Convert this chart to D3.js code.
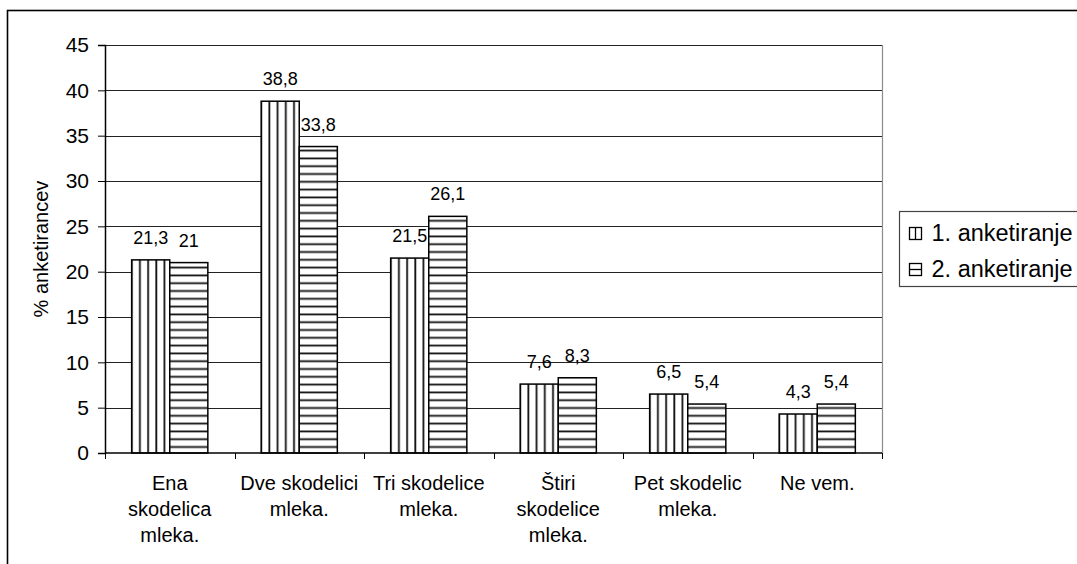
<!DOCTYPE html>
<html>
<head>
<meta charset="utf-8">
<script src="https://cdn.jsdelivr.net/npm/d3@7"></script>
<style>
  html, body { margin: 0; padding: 0; background: #fff; }
  svg { display: block; font-family: "Liberation Sans", Arial, sans-serif; }
</style>
</head>
<body>
<svg id="chart" width="1077" height="564"></svg>
<script>
// Answers to "how many cups of milk" — two survey rounds
const categories = [
  "Ena skodelica mleka.",
  "Dve skodelici mleka.",
  "Tri skodelice mleka.",
  "Štiri skodelice mleka.",
  "Pet skodelic mleka.",
  "Ne vem."
];
// category labels as they wrap under the axis
const categoryLines = [
  ["Ena", "skodelica", "mleka."],
  ["Dve skodelici", "mleka."],
  ["Tri skodelice", "mleka."],
  ["Štiri", "skodelice", "mleka."],
  ["Pet skodelic", "mleka."],
  ["Ne vem."]
];
const seriesNames = ["1. anketiranje", "2. anketiranje"];
const survey1 = [21.3, 38.8, 21.5, 7.6, 6.5, 4.3];
const survey2 = [21, 33.8, 26.1, 8.3, 5.4, 5.4];
const yTicks = [0, 5, 10, 15, 20, 25, 30, 35, 40, 45];
const yTitle = "% anketirancev";

const svg = d3.select("#chart");
const plot = { left: 105, right: 882, top: 45, bottom: 453 };

// hatch fills: vertical lines for round 1, horizontal lines for round 2
const defs = svg.append("defs");
defs.append("pattern")
  .attr("id", "hatch-v").attr("patternUnits", "userSpaceOnUse")
  .attr("width", 8.2).attr("height", 8)
  .call(p => {
    p.append("rect").attr("width", 8.2).attr("height", 8).attr("fill", "#fff");
    p.append("rect").attr("x", 1.2).attr("width", 1.8).attr("height", 8).attr("fill", "#111");
  });
defs.append("pattern")
  .attr("id", "hatch-h").attr("patternUnits", "userSpaceOnUse")
  .attr("width", 8).attr("height", 7.8)
  .call(p => {
    p.append("rect").attr("width", 8).attr("height", 7.8).attr("fill", "#fff");
    p.append("rect").attr("y", 1.5).attr("width", 8).attr("height", 1.8).attr("fill", "#111");
  });
const fills = ["url(#hatch-v)", "url(#hatch-h)"];

// chart frame
svg.append("rect")
  .attr("x", 7.5).attr("y", 10.5).attr("width", 1200).attr("height", 700)
  .attr("fill", "#fff").attr("stroke", "#000").attr("stroke-width", 1.6);

const x = d3.scaleBand().domain(categories).range([plot.left, plot.right]).padding(0);
const xInner = d3.scaleBand().domain([0, 1]).range([0, x.bandwidth()])
  .paddingInner(0).paddingOuter(0.7);
const y = d3.scaleLinear().domain([0, 45]).range([plot.bottom, plot.top]);

// gridlines
svg.append("g")
  .selectAll("line").data(yTicks.filter(t => t > 0)).join("line")
  .attr("x1", plot.left).attr("x2", plot.right)
  .attr("y1", d => Math.round(y(d)) + 0.5).attr("y2", d => Math.round(y(d)) + 0.5)
  .attr("stroke", "#222").attr("stroke-width", 1);

// right edge of plot area
svg.append("line")
  .attr("x1", plot.right + 0.5).attr("x2", plot.right + 0.5)
  .attr("y1", plot.top).attr("y2", plot.bottom)
  .attr("stroke", "#8c8c8c").attr("stroke-width", 1.2);

// bars
const rows = categories.map((c, i) => ({ c, vals: [survey1[i], survey2[i]] }));
const groups = svg.append("g").selectAll("g").data(rows).join("g")
  .attr("transform", d => `translate(${x(d.c)},0)`);
groups.selectAll("rect").data(d => d.vals.map((v, s) => ({ v, s }))).join("rect")
  .attr("x", d => xInner(d.s))
  .attr("y", d => y(d.v))
  .attr("width", xInner.bandwidth())
  .attr("height", d => y(0) - y(d.v))
  .attr("fill", d => fills[d.s])
  .attr("stroke", "#000").attr("stroke-width", 1.5);

// value labels
groups.selectAll("text").data(d => d.vals.map((v, s) => ({ v, s }))).join("text")
  .attr("x", d => xInner(d.s) + xInner.bandwidth() / 2)
  .attr("y", d => y(d.v) - 16)
  .attr("text-anchor", "middle")
  .attr("font-size", 18)
  .attr("fill", "#000")
  .text(d => String(d.v).replace(".", ","));

// y axis
const yAxis = svg.append("g")
  .attr("transform", `translate(${plot.left},0)`)
  .call(d3.axisLeft(y).tickValues(yTicks).tickSize(7).tickPadding(9).tickFormat(d3.format("d")));
yAxis.select(".domain").attr("stroke", "#000").attr("stroke-width", 1.5);
yAxis.selectAll(".tick line").attr("stroke", "#000");
yAxis.selectAll(".tick text").attr("font-size", 21).attr("font-family", "Liberation Sans, Arial, sans-serif").attr("fill", "#000");

// x axis with ticks at category boundaries
const xAxisG = svg.append("g").attr("transform", `translate(0,${plot.bottom})`);
xAxisG.append("line")
  .attr("x1", plot.left).attr("x2", plot.right)
  .attr("stroke", "#000").attr("stroke-width", 1.5);
const bounds = categories.map(c => x(c)).concat([x(categories[categories.length - 1]) + x.bandwidth()]);
xAxisG.selectAll("line.tick").data(bounds).join("line")
  .attr("class", "tick")
  .attr("x1", d => Math.round(d) + 0.5).attr("x2", d => Math.round(d) + 0.5)
  .attr("y1", 0).attr("y2", 6)
  .attr("stroke", "#000");
xAxisG.selectAll("text.cat").data(categories).join("text")
  .attr("class", "cat")
  .attr("text-anchor", "middle")
  .attr("font-size", 20)
  .attr("fill", "#000")
  .each(function (d, i) {
    const t = d3.select(this);
    categoryLines[i].forEach((line, k) => {
      t.append("tspan")
        .attr("x", x(d) + x.bandwidth() / 2)
        .attr("y", 37 + k * 26)
        .text(line);
    });
  });

// y axis title
svg.append("text")
  .attr("transform", `translate(48,${(plot.top + plot.bottom) / 2}) rotate(-90)`)
  .attr("text-anchor", "middle")
  .attr("font-size", 20)
  .attr("fill", "#000")
  .text(yTitle);

// legend
const legend = svg.append("g").attr("transform", "translate(899.5,211.5)");
legend.append("rect")
  .attr("width", 200).attr("height", 75)
  .attr("fill", "#fff").attr("stroke", "#444").attr("stroke-width", 1.2);
seriesNames.forEach((name, i) => {
  const row = legend.append("g").attr("transform", `translate(10,${16 + i * 36})`);
  row.append("rect").attr("width", 12).attr("height", 12)
    .attr("fill", "#fff").attr("stroke", "#000").attr("stroke-width", 1.3);
  if (i === 0) {
    row.append("line").attr("x1", 6).attr("x2", 6).attr("y1", 0).attr("y2", 12).attr("stroke", "#000").attr("stroke-width", 1.3);
  } else {
    row.append("line").attr("x1", 0).attr("x2", 12).attr("y1", 6).attr("y2", 6).attr("stroke", "#000").attr("stroke-width", 1.3);
  }
  row.append("text")
    .attr("x", 22).attr("y", 13.5)
    .attr("font-size", 23.5)
    .attr("fill", "#000")
    .text(name);
});
</script>
</body>
</html>
